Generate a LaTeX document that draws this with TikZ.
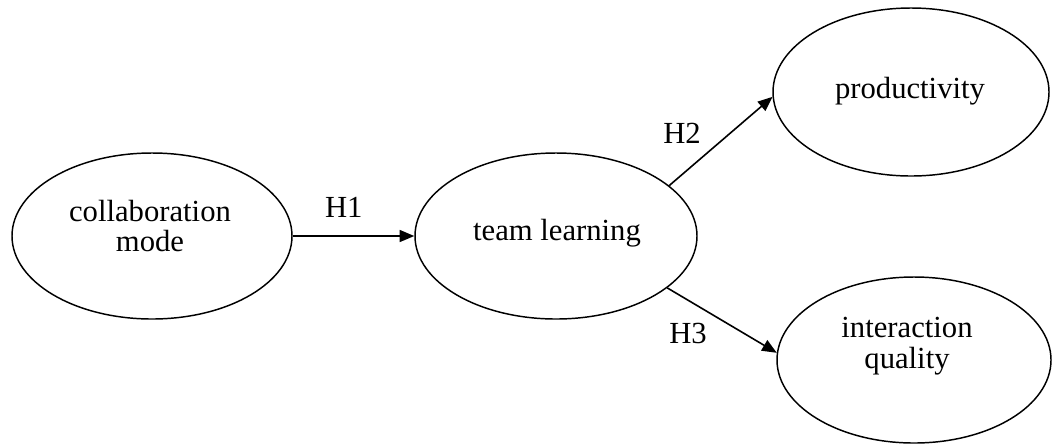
\documentclass[tikz,border=0pt]{standalone}
\usepackage{fontspec}
\setmainfont{Liberation Serif}
\usetikzlibrary{shapes.geometric,arrows.meta}
\begin{document}
\begin{tikzpicture}[x=0.75pt,y=-0.75pt,
  oval/.style={draw,ellipse,line width=1.1pt,inner sep=0pt},
  txt/.style={font=\fontsize{23}{23}\selectfont,align=center,inner sep=0pt},
  arr/.style={-{Triangle[length=11pt,width=9pt]},line width=1.2pt},
  hl/.style={font=\fontsize{23}{26}\selectfont,inner sep=0pt}]
\useasboundingbox[fill=white] (0,0) rectangle (1052,444);
\node[oval,minimum width=210pt,minimum height=124.5pt] (cm) at (152,236) {};
\node[oval,minimum width=211.5pt,minimum height=124.5pt] (tl) at (556,236) {};
\node[oval,minimum width=207pt,minimum height=126pt] (pr) at (911,92) {};
\node[oval,minimum width=205.5pt,minimum height=124.5pt] (iq) at (914,360) {};
\node[txt] (cmt) at (150,226) {collaboration\\mode};
\node[txt] (tlt) at (557,233) {team learning};
\node[txt] (prt) at (910,91) {productivity};
\node[txt] (iqt) at (907,346) {interaction\\quality};
\draw[arr] (cm.east) -- (tl.west) node[hl,pos=0.42,above=13pt] (h1) {H1};
\draw[arr] (tl.24) -- (pr.182);
\draw[arr] (tl.-25) -- (iq.177);
\node[hl] (h2) at (682,133) {H2};
\node[hl] (h3) at (688,333) {H3};
\end{tikzpicture}
\end{document}
